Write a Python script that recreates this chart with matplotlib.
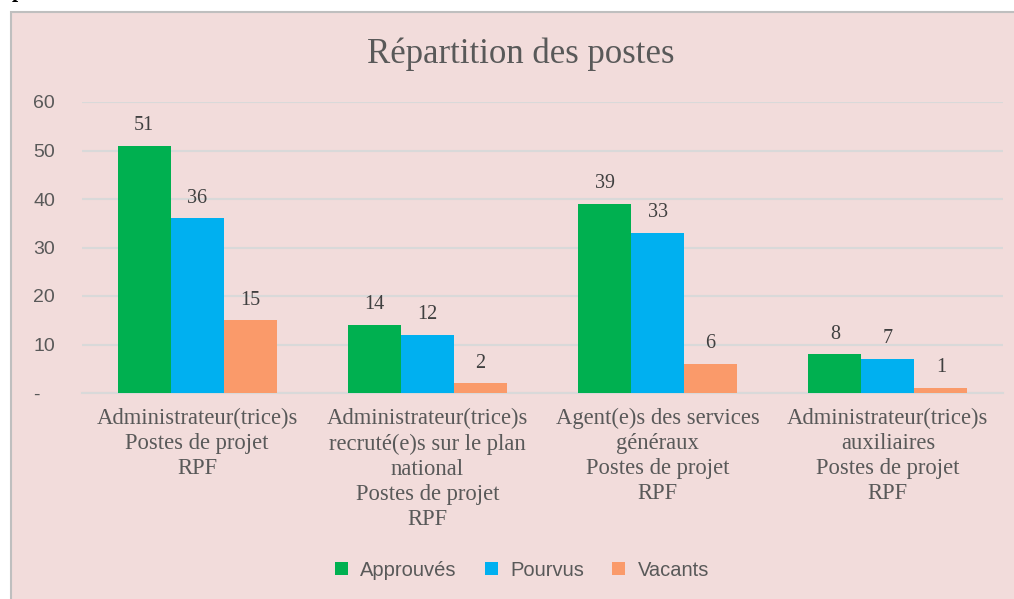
import numpy as np
import matplotlib.pyplot as plt
from matplotlib.patches import Rectangle

categories = ["Administrateur(trice)s\nPostes de projet\nRPF",
              "Administrateur(trice)s\nrecruté(e)s sur le plan\nnational\nPostes de projet\nRPF",
              "Agent(e)s des services\ngénéraux\nPostes de projet\nRPF",
              "Administrateur(trice)s\nauxiliaires\nPostes de projet\nRPF"]
series = ["Approuvés", "Pourvus", "Vacants"]
approuves = [51, 14, 39, 8]
pourvus = [36, 12, 33, 7]
vacants = [15, 2, 6, 1]
yticks = [0, 10, 20, 30, 40, 50, 60]
ytick_labels = ["-", "10", "20", "30", "40", "50", "60"]

colors = ["#00B050", "#00B0F0", "#FA9A6A"]
bg = "#F2DCDB"
grey = "#595959"
serif = "Liberation Serif"
sans = "Liberation Sans"

fig = plt.figure(figsize=(10.14, 5.99), dpi=100)
fig.patch.set_facecolor("white")
fig.patches.append(Rectangle((11 / 1014, -0.01), 1.0, 1 - 12 / 599 + 0.01,
                             transform=fig.transFigure, facecolor=bg,
                             edgecolor="#BFBFBF", lw=1.5, zorder=-5))
fig.text(12 / 1014, 1 + 3 / 599, "p", family=serif, fontweight="bold",
         fontsize=16, va="baseline", ha="left", color="black")

ax = fig.add_axes([82 / 1014, 1 - 393 / 599, (1003 - 82) / 1014, (393 - 102) / 599])
ax.set_facecolor("none")

x = np.arange(len(categories))
w = 0.23
for i, (vals, name) in enumerate(zip([approuves, pourvus, vacants], series)):
    pos = x + (i - 1) * w
    ax.bar(pos, vals, w, color=colors[i], label=name, zorder=3)
    for p, v in zip(pos, vals):
        ax.text(p, v + 2.2, str(v), ha="center", va="bottom", family=serif,
                fontsize=14.5, color="#404040")

ax.set_xlim(-0.5, len(categories) - 0.5)
ax.set_ylim(0, 60)
ax.set_yticks(yticks)
ax.set_yticklabels(ytick_labels, family=sans, fontsize=14, color=grey)
ax.set_xticks(x)
ax.set_xticklabels(categories, family=serif, fontsize=16.3, color=grey,
                   linespacing=1.25)
ax.tick_params(axis="both", length=0)
ax.tick_params(axis="y", pad=35)
ax.tick_params(axis="x", pad=11)
for lab in ax.get_yticklabels():
    lab.set_horizontalalignment("left")
ax.grid(axis="y", color="#D9D9D9", lw=1.5, zorder=0)
for s in ["top", "right", "left"]:
    ax.spines[s].set_visible(False)
ax.spines["bottom"].set_color("#D9D9D9")
ax.spines["bottom"].set_linewidth(1.5)

fig.text(521 / 1014, 1 - 54 / 599, "Répartition des postes", family=serif,
         fontsize=25, color=grey, ha="center", va="center")

fig.legend(loc="center", bbox_to_anchor=(522 / 1014, 1 - 570 / 599), ncol=3,
           frameon=False, prop={"family": sans, "size": 14.5},
           labelcolor=grey, handlelength=0.65, handleheight=0.65,
           columnspacing=1.4, handletextpad=0.6)

fig.savefig("out.png", dpi=100, facecolor=fig.get_facecolor())
